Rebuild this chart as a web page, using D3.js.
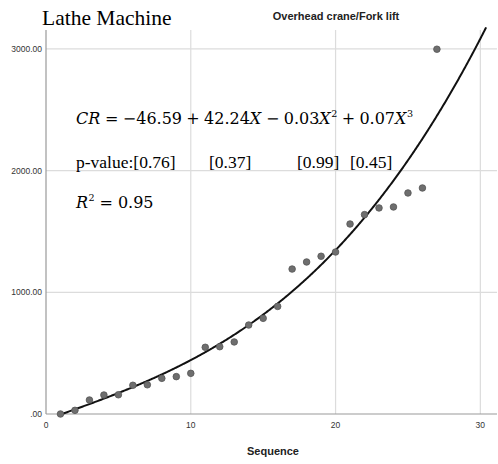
<!DOCTYPE html>
<html><head><meta charset="utf-8">
<script src="https://cdn.jsdelivr.net/npm/d3@7"></script>
<style>body{margin:0;background:#fff}svg{display:block}</style>
</head><body>
<svg id="c" width="498" height="464"></svg>
<script>
const sequence = [1,2,3,4,5,6,7,8,9,10,11,12,13,14,15,16,17,18,19,20,21,22,23,24,25,26,27];
const cost = [0,30,115,156,158,236,240,293,307,334,548,553,592,731,786,884,1191,1249,1296,1331,1561,1638,1693,1701,1816,1857,2997];
const coef = [-46.59, 42.24, -0.03, 0.07];
const xTicks = [0,10,20,30];
const yTicks = [0,1000,2000,3000];
const yTickLabels = [".00","1000.00","2000.00","3000.00"];
const pValues = ["[0.76]","[0.37]","[0.99]","[0.45]"];
const rSquared = "0.95";

const svg = d3.select("#c");
const L=46, R=497, T=30, B=414;
const x = d3.scaleLinear().domain([0,31.15]).range([L,R]);
const y = d3.scaleLinear().domain([0,3155]).range([B,T]);

// gridlines
svg.append("g").selectAll("line").data(yTicks.slice(1)).join("line")
  .attr("x1",L).attr("x2",R).attr("y1",d=>y(d)).attr("y2",d=>y(d))
  .attr("stroke","#dcdcdc").attr("stroke-width",1.2);
svg.append("g").selectAll("line").data(xTicks.slice(1)).join("line")
  .attr("y1",T).attr("y2",B).attr("x1",d=>x(d)).attr("x2",d=>x(d))
  .attr("stroke","#dcdcdc").attr("stroke-width",1.2);

// axes
svg.append("line").attr("x1",L).attr("x2",L).attr("y1",T).attr("y2",B).attr("stroke","#999").attr("stroke-width",1.2);
svg.append("line").attr("x1",L).attr("x2",R).attr("y1",B).attr("y2",B).attr("stroke","#999").attr("stroke-width",1.2);

svg.append("g").selectAll("text").data(yTicks).join("text")
  .attr("x",L-4).attr("y",d=>y(d)+3).attr("text-anchor","end")
  .attr("font-family","Liberation Sans Narrow, Liberation Sans, Arial").attr("font-size",8.5).attr("fill","#333")
  .text((d,i)=>yTickLabels[i]);
svg.append("g").selectAll("text").data(xTicks).join("text")
  .attr("x",d=>x(d)).attr("y",B+14).attr("text-anchor","middle")
  .attr("font-family","Liberation Sans, Arial").attr("font-size",8.5).attr("fill","#333")
  .text(d=>d);

svg.append("text").attr("x",273).attr("y",455).attr("text-anchor","middle")
  .attr("font-family","Liberation Sans, Arial").attr("font-weight","bold").attr("font-size",11).attr("fill","#222").text("Sequence");

// curve
const poly = t => coef[0]+coef[1]*t+coef[2]*t*t+coef[3]*t*t*t;
const xs = d3.range(1,30.45,0.05);
svg.append("path").datum(xs)
  .attr("d", d3.line().x(t=>x(t)).y(t=>y(poly(t))))
  .attr("fill","none").attr("stroke","#111").attr("stroke-width",2);

// points
svg.append("g").selectAll("circle").data(sequence).join("circle")
  .attr("cx",d=>x(d)).attr("cy",(d,i)=>y(cost[i])).attr("r",3.3)
  .attr("fill","#6e6e6e").attr("stroke","#555").attr("stroke-width",0.8);

// titles
svg.append("text").attr("x",42).attr("y",25).attr("font-family","Liberation Serif, Times New Roman").attr("font-size",21.5).attr("fill","#000").text("Lathe Machine");
svg.append("text").attr("x",336).attr("y",20).attr("text-anchor","middle").attr("font-family","Liberation Sans, Arial").attr("font-weight","bold").attr("font-size",11).attr("fill","#222").text("Overhead crane/Fork lift");

// math-style text laid out piece by piece, extra room spread around operators
const mathFont = "DejaVu Serif";
function mathLine(parts, x0, x1, base, size){
  const g = svg.append("g");
  const nodes = parts.map(p => g.append("text")
    .attr("y", p.sup ? base - size*0.42 : base)
    .attr("font-family", mathFont).attr("font-size", p.sup ? size*0.6 : size)
    .attr("font-style", p.it ? "italic" : "normal").attr("fill","#000").text(p.t));
  const widths = nodes.map(n => n.node().getComputedTextLength());
  const total = d3.sum(widths);
  const ops = parts.filter(p=>p.op).length;
  const gap = Math.max(2, (x1 - x0 - total) / (ops*2));
  let cx = x0;
  parts.forEach((p,i)=>{
    if(p.op) cx += gap;
    nodes[i].attr("x", cx);
    cx += widths[i] + (p.it && !p.op ? 0.5 : 0);
    if(p.op) cx += gap;
  });
}
mathLine([
  {t:"CR",it:true},{t:"=",op:true},{t:"−46.59"},{t:"+",op:true},
  {t:"42.24"},{t:"X",it:true},{t:"−",op:true},{t:"0.03"},
  {t:"X",it:true},{t:"2",sup:true},{t:"+",op:true},{t:"0.07"},
  {t:"X",it:true},{t:"3",sup:true}
], 76, 411, 124, 16);

mathLine([{t:"R",it:true},{t:"2",sup:true},{t:"=",op:true},{t:rSquared}], 76, 153, 208, 16);

const serif = "Liberation Serif, Times New Roman";
const pvX = [76,209,297,350];
svg.append("g").selectAll("text").data(pValues).join("text")
  .attr("x",(d,i)=>pvX[i]).attr("y",168).attr("font-family",serif).attr("font-size",17.5).attr("fill","#000")
  .text((d,i)=>i===0?"p-value:"+d:d);
</script>
</body></html>
